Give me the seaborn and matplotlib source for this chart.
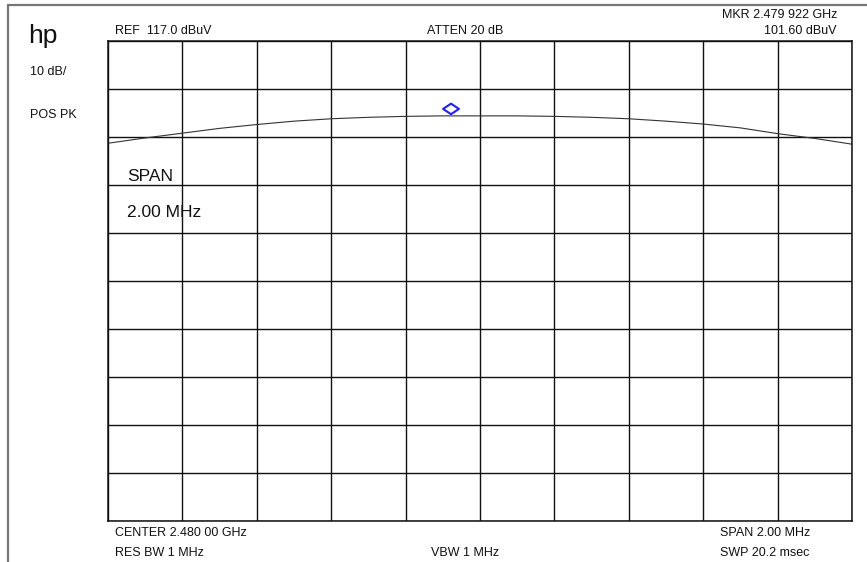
import numpy as np
import pandas as pd
import seaborn as sns
import matplotlib.pyplot as plt
from matplotlib.lines import Line2D
from matplotlib.path import Path
from matplotlib.transforms import offset_copy

# Trace readings (offset from center in MHz, level in dBuV)
offset_mhz = [-1.0, -0.9, -0.8, -0.7, -0.6, -0.5, -0.4, -0.3, -0.2, -0.1, 0.0,
              0.1, 0.2, 0.3, 0.4, 0.5, 0.6, 0.7, 0.8, 0.9, 1.0]
level_db = [95.7, 96.8, 97.8, 98.8, 99.6, 100.3, 100.8, 101.1, 101.3, 101.4, 101.4,
            101.4, 101.3, 101.1, 100.8, 100.3, 99.7, 98.9, 97.7, 96.7, 95.5]

# Marker
marker_offset_mhz = [-0.078]
marker_db = [101.6]

ref_level = 117.0
db_per_div = 10
center_ghz = 2.480
span_mhz = 2.0

df = pd.DataFrame({"freq": offset_mhz, "level": level_db})

sns.set_style("white")
plt.rcParams["font.family"] = ["Liberation Sans", "DejaVu Sans"]

W, H = 867, 562
fig = plt.figure(figsize=(W / 100, H / 100), dpi=100)
ax = fig.add_axes([108 / W, 1 - 521 / H, 744 / W, 480 / H])

sns.lineplot(data=df, x="freq", y="level", ax=ax, color="#333333", linewidth=0.8)

# Marker diamond, drawn a little above the trace point
diamond = Path([(-1.5, 0), (0, 1), (1.5, 0), (0, -1), (-1.5, 0)],
               [Path.MOVETO, Path.LINETO, Path.LINETO, Path.LINETO, Path.CLOSEPOLY])
trans = offset_copy(ax.transData, fig=fig, x=0, y=6, units="dots")
ax.scatter(marker_offset_mhz, marker_db, marker=diamond, s=130, facecolors="none",
           edgecolors="#1f1fff", linewidths=1.5, transform=trans, zorder=5)

half = span_mhz / 2
ax.set_xlim(-half, half)
ax.set_ylim(ref_level - 10 * db_per_div, ref_level)
ax.set_xticks(np.linspace(-half, half, 11))
ax.set_yticks(np.arange(ref_level - 10 * db_per_div, ref_level + 0.1, db_per_div))
ax.grid(True, color="#111111", linewidth=1.0)
ax.tick_params(length=0, labelbottom=False, labelleft=False)
ax.set_xlabel("")
ax.set_ylabel("")
for s in ax.spines.values():
    s.set_color("#111111")
    s.set_linewidth(1.1)


def px_text(x, y, s, size=9, ha="left"):
    fig.text(x / W, 1 - (y + 1.5) / H, s, fontsize=size, ha=ha, va="center", color="#111111")


px_text(28, 34, "hp", size=19)
px_text(30, 71, "10 dB/")
px_text(30, 113, "POS PK")
px_text(115, 30, f"REF  {ref_level:.1f} dBuV")
px_text(465, 30, "ATTEN 20 dB", ha="center")
px_text(837, 14, "MKR 2.479 922 GHz", ha="right")
px_text(837, 30, f"{marker_db[0]:.2f} dBuV", ha="right")
px_text(127, 175, "SPAN", size=12.5)
px_text(127, 211, f"{span_mhz:.2f} MHz", size=12.5)
px_text(115, 531, f"CENTER {center_ghz:.3f} 00 GHz")
px_text(115, 551, "RES BW 1 MHz")
px_text(465, 551, "VBW 1 MHz", ha="center")
px_text(720, 531, f"SPAN {span_mhz:.2f} MHz")
px_text(720, 551, "SWP 20.2 msec")

# Page border lines
fig.add_artist(Line2D([8 / W, 1], [1 - 4.5 / H, 1 - 4.5 / H], color="#777777", linewidth=1.6))
fig.add_artist(Line2D([8 / W, 8 / W], [0, 1 - 4.5 / H], color="#777777", linewidth=1.6))

fig.savefig("out.png", dpi=100)
